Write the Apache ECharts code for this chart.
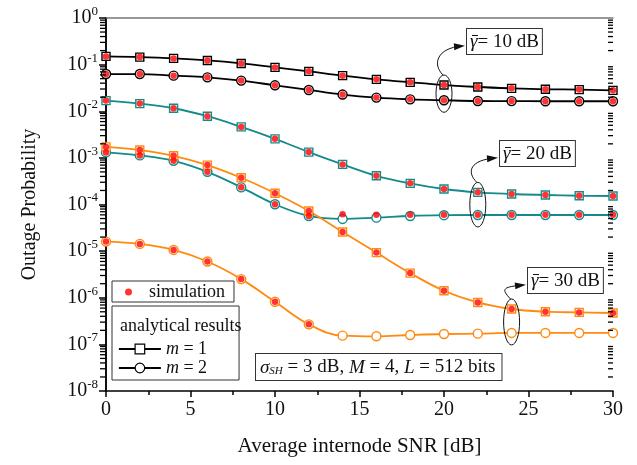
<!DOCTYPE html>
<html>
<head>
<meta charset="utf-8">
<script src="https://cdn.jsdelivr.net/npm/echarts@6/dist/echarts.min.js"></script>
<style>
  html, body { margin: 0; padding: 0; background: #fff; }
  #chart { width: 637px; height: 465px; }
</style>
</head>
<body>
<div id="chart"></div>
<script>
const FONT = "Liberation Serif, Times New Roman, serif";

// SNR in dB
const snr = [0, 2, 4, 6, 8, 10, 12, 14, 16, 18, 20, 22, 24, 26, 28, 30];

// analytical outage probability, gamma = 10 dB
const g10m1 = [0.150, 0.145, 0.136, 0.123, 0.106, 0.0873, 0.0717, 0.058, 0.0483, 0.0417, 0.0365, 0.0331, 0.031, 0.0296, 0.0291, 0.0281];
const g10m2 = [0.0628, 0.0628, 0.058, 0.0534, 0.0454, 0.036, 0.0286, 0.0228, 0.0196, 0.018, 0.0172, 0.0166, 0.0165, 0.0164, 0.0164, 0.0164];
// gamma = 20 dB
const g20m1 = [0.0169, 0.0146, 0.0116, 0.00782, 0.00462, 0.00256, 0.00133, 7.24e-4, 4.13e-4, 2.84e-4, 2.15e-4, 1.82e-4, 1.68e-4, 1.6e-4, 1.54e-4, 1.52e-4];
const g20m2 = [1.31e-3, 1.13e-3, 8.65e-4, 5.03e-4, 2.33e-4, 1.01e-4, 5.67e-5, 4.9e-5, 5.22e-5, 5.67e-5, 5.9e-5, 5.96e-5, 5.96e-5, 5.96e-5, 5.96e-5, 5.96e-5];
// gamma = 30 dB
const g30m1 = [1.72e-3, 1.47e-3, 1.11e-3, 7.0e-4, 3.74e-4, 1.74e-4, 7.26e-5, 2.58e-5, 9.3e-6, 3.38e-6, 1.41e-6, 7.93e-7, 5.74e-7, 5.02e-7, 4.85e-7, 4.71e-7];
const g30m2 = [1.6e-5, 1.43e-5, 1.06e-5, 5.98e-6, 2.51e-6, 8.2e-7, 2.69e-7, 1.54e-7, 1.49e-7, 1.59e-7, 1.67e-7, 1.7e-7, 1.76e-7, 1.76e-7, 1.76e-7, 1.76e-7];

// simulation results (red dots)
const sim20m2 = [1.31e-3, 1.13e-3, 8.65e-4, 5.03e-4, 2.33e-4, 1.01e-4, 5.67e-5, 6.2e-5, 6.0e-5, 6.0e-5, 6.0e-5, 6.0e-5, 6.0e-5, 6.0e-5, 6.0e-5, 6.0e-5];
const sim30m2 = [1.6e-5, 1.43e-5, 1.06e-5, 5.98e-6, 2.51e-6, 8.2e-7, 2.69e-7];

const yExpMin = -8;
const yExpMax = 0;
const minorMult = [2, 3, 4, 5, 6, 7, 8, 9];

const annotations = [
  { label: "10", x: 20, upper: g10m1, lower: g10m2, box: [467, 29] },
  { label: "20", x: 22, upper: g20m1, lower: g20m2, box: [500, 141] },
  { label: "30", x: 24, upper: g30m1, lower: g30m2, box: [528, 268] },
];

const BLACK = "#000000";
const TEAL = "#148a8a";
const ORANGE = "#ff8a10";

const pairs = (ys) => ys.map((v, i) => [snr[i], v]);

const minorTicks = [];
for (let e = yExpMin; e < yExpMax; e++) {
  minorMult.forEach((m) => minorTicks.push(m * Math.pow(10, e)));
}

const curve = (name, color, symbol, ys) => ({
  name: name,
  type: "line",
  smooth: 0.4,
  data: pairs(ys),
  symbol: symbol,
  symbolSize: symbol === "rect" ? 8 : 9,
  showAllSymbol: true,
  lineStyle: { color: color, width: 1.8 },
  itemStyle: { color: "#ffffff", borderColor: color, borderWidth: 1.4 },
  z: 3,
});

const chart = echarts.init(document.getElementById("chart"), null, { renderer: "canvas" });

const option = {
  animation: false,
  textStyle: { fontFamily: FONT },
  grid: { left: 106, right: 24, top: 18, bottom: 74 },
  xAxis: [
    {
      type: "value",
      min: 0,
      max: 30,
      interval: 5,
      name: "Average internode SNR [dB]",
      nameLocation: "middle",
      nameGap: 45,
      nameTextStyle: { fontFamily: FONT, fontSize: 21, color: "#111" },
      axisLine: { lineStyle: { color: "#000", width: 1.5 } },
      axisTick: { show: true, length: 6, lineStyle: { color: "#000", width: 1.5 } },
      minorTick: { show: true, splitNumber: 2, length: 4, lineStyle: { color: "#000", width: 1.5 } },
      axisLabel: { fontFamily: FONT, fontSize: 20, color: "#111", margin: 9 },
      splitLine: { show: false },
    },
    {
      type: "value",
      position: "top",
      min: 0,
      max: 30,
      axisLine: { show: true, lineStyle: { color: "#777", width: 1.5 } },
      axisTick: { show: false },
      axisLabel: { show: false },
      splitLine: { show: false },
    },
  ],
  yAxis: [
    {
      type: "log",
      logBase: 10,
      min: Math.pow(10, yExpMin),
      max: Math.pow(10, yExpMax),
      splitNumber: 8,
      name: "Outage Probability",
      nameLocation: "middle",
      nameGap: 66,
      nameTextStyle: { fontFamily: FONT, fontSize: 20, color: "#111" },
      axisLine: { show: true, lineStyle: { color: "#000", width: 1.5 } },
      axisTick: { show: true, length: 7, lineStyle: { color: "#000", width: 1.5 } },
      splitLine: { show: false },
      axisLabel: {
        margin: 8,
        formatter: (v) => "{a|10}{b|" + Math.round(Math.log10(v)) + "}",
        rich: {
          a: { fontFamily: FONT, fontSize: 20, color: "#111" },
          b: { fontFamily: FONT, fontSize: 13, color: "#111", padding: [0, 0, 13, 0] },
        },
      },
    },
    {
      type: "log",
      logBase: 10,
      position: "right",
      min: Math.pow(10, yExpMin),
      max: Math.pow(10, yExpMax),
      splitNumber: 8,
      axisLine: { show: true, lineStyle: { color: "#000", width: 1.5 } },
      axisTick: { show: true, inside: true, length: 7, lineStyle: { color: "#000", width: 1.5 } },
      axisLabel: { show: false },
      splitLine: { show: false },
    },
  ],
  legend: [
    {
      left: 112,
      top: 281,
      orient: "vertical",
      data: ["simulation"],
      icon: "circle",
      itemWidth: 7,
      itemHeight: 7,
      padding: [2, 9, 1, 13],
      borderColor: "#333",
      borderWidth: 1,
      backgroundColor: "#fff",
      selectedMode: false,
      formatter: "{t|simulation}",
      textStyle: {
        rich: { t: { fontFamily: FONT, fontSize: 18, color: "#111", lineHeight: 20, padding: [0, 0, 0, 12] } },
      },
    },
    {
      left: 112,
      top: 306,
      orient: "vertical",
      data: [
        { name: "m = 1", itemStyle: { color: "#fff", borderColor: "#000", borderWidth: 1.2 }, lineStyle: { color: "#000", width: 1.8 } },
        { name: "m = 2", itemStyle: { color: "#fff", borderColor: "#000", borderWidth: 1.2 }, lineStyle: { color: "#000", width: 1.8 } },
      ],
      itemWidth: 42,
      itemHeight: 12,
      itemGap: 1,
      padding: [34, 32, 3, 6],
      borderColor: "#333",
      borderWidth: 1,
      backgroundColor: "#fff",
      selectedMode: false,
      formatter: (n) => "{i|m}{t|" + n.slice(1) + "}",
      textStyle: {
        rich: {
          i: { fontFamily: FONT, fontStyle: "italic", fontSize: 18, color: "#111", lineHeight: 20 },
          t: { fontFamily: FONT, fontSize: 18, color: "#111", lineHeight: 20 },
        },
      },
    },
  ],
  series: [
    curve("m = 1", BLACK, "rect", g10m1),
    curve("m = 2", BLACK, "circle", g10m2),
    curve("m = 1", TEAL, "rect", g20m1),
    curve("m = 2", TEAL, "circle", g20m2),
    curve("m = 1", ORANGE, "rect", g30m1),
    curve("m = 2", ORANGE, "circle", g30m2),
    {
      name: "simulation",
      type: "scatter",
      symbol: "circle",
      symbolSize: 6.5,
      itemStyle: { color: "#ff0000" },
      z: 5,
      data: [].concat(pairs(g10m1), pairs(g10m2), pairs(g20m1), pairs(sim20m2), pairs(g30m1), pairs(sim30m2)),
    },
  ],
};

chart.setOption(option);

const graphics = [];

// logarithmic minor ticks on both vertical axes, placed through the axis scale
const xLeft = chart.convertToPixel({ xAxisIndex: 0 }, 0);
const xRight = chart.convertToPixel({ xAxisIndex: 0 }, 30);
minorTicks.forEach((v) => {
  const y = chart.convertToPixel({ yAxisIndex: 0 }, v);
  graphics.push({
    type: "line",
    silent: true,
    shape: { x1: xLeft - 6, y1: y, x2: xLeft, y2: y },
    style: { stroke: "#000", lineWidth: 1.3 },
    z: 10,
  });
  graphics.push({
    type: "line",
    silent: true,
    shape: { x1: xRight - 5, y1: y, x2: xRight, y2: y },
    style: { stroke: "#000", lineWidth: 1.3 },
    z: 10,
  });
});

// annotations: boxes, ellipses around curve pairs, curved arrows
const boxStyle = {
  borderColor: "#333",
  borderWidth: 1,
  backgroundColor: "#fff",
  padding: [3, 3, 2, 3],
};

annotations.forEach((a) => {
  const idx = snr.indexOf(a.x);
  const pu = chart.convertToPixel({ gridIndex: 0 }, [a.x, a.upper[idx]]);
  const pl = chart.convertToPixel({ gridIndex: 0 }, [a.x, a.lower[idx]]);
  const cx = pu[0];
  const cy = (pu[1] + pl[1]) / 2 + 1;
  const ry = (pl[1] - pu[1]) / 2 + 11;
  const rx = 8;

  graphics.push({
    type: "ellipse",
    shape: { cx: cx, cy: cy, rx: rx, ry: ry },
    style: { fill: null, stroke: "#111", lineWidth: 1 },
    z: 10,
  });

  graphics.push({
    type: "text",
    x: a.box[0],
    y: a.box[1],
    z: 10,
    style: Object.assign({
      text: "{g|\u03B3}{t|= " + a.label + " dB}",
      rich: {
        g: { fontFamily: FONT, fontStyle: "italic", fontSize: 19, fill: "#111", lineHeight: 20 },
        t: { fontFamily: FONT, fontSize: 19, fill: "#111", lineHeight: 20 },
      },
    }, boxStyle),
  });
  // bar over gamma
  graphics.push({
    type: "line",
    shape: { x1: a.box[0] + 5, y1: a.box[1] + 6.5, x2: a.box[0] + 11, y2: a.box[1] + 6.5 },
    style: { stroke: "#111", lineWidth: 1 },
    z: 11,
  });

  const sx = cx - 1;
  const sy = cy - ry;
  const ex = a.box[0] - 5;
  const ey = a.box[1] + 17;
  const c1 = [sx - 11, sy - 11];
  const c2 = [sx - 6, ey + 2];
  graphics.push({
    type: "bezierCurve",
    shape: { x1: sx, y1: sy, cpx1: c1[0], cpy1: c1[1], cpx2: c2[0], cpy2: c2[1], x2: ex, y2: ey },
    style: { fill: null, stroke: "#111", lineWidth: 1 },
    z: 10,
  });
  let dx = ex - c2[0];
  let dy = ey - c2[1];
  const len = Math.sqrt(dx * dx + dy * dy);
  dx /= len;
  dy /= len;
  graphics.push({
    type: "polygon",
    shape: {
      points: [
        [ex + dx * 3, ey + dy * 3],
        [ex - dx * 8 - dy * 3.5, ey - dy * 8 + dx * 3.5],
        [ex - dx * 8 + dy * 3.5, ey - dy * 8 - dx * 3.5],
      ],
    },
    style: { fill: "#111" },
    z: 10,
  });
});

// heading of the analytical legend box
graphics.push({
  type: "text",
  x: 120,
  y: 317,
  z: 10,
  style: { text: "analytical results", font: "18px " + FONT, fill: "#111" },
});

// parameter box
graphics.push({
  type: "text",
  x: 256,
  y: 354,
  z: 10,
  style: Object.assign({
    text: "{i|\u03C3}{s|SH}{t| = 3 dB, }{i|M}{t| = 4, }{i|L}{t| = 512 bits}",
    rich: {
      i: { fontFamily: FONT, fontStyle: "italic", fontSize: 19, fill: "#111" },
      s: { fontFamily: FONT, fontStyle: "italic", fontSize: 11, fill: "#111", padding: [8, 0, 0, 0] },
      t: { fontFamily: FONT, fontSize: 19, fill: "#111" },
    },
  }, boxStyle, { padding: [4, 6, 3, 4] }),
});

chart.setOption({ graphic: graphics });

window.addEventListener("resize", () => chart.resize());
</script>
</body>
</html>
